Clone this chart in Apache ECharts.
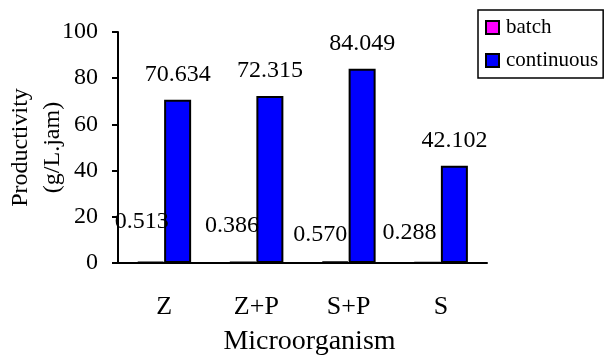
<!DOCTYPE html>
<html>
<head>
<meta charset="utf-8">
<script src="https://cdn.jsdelivr.net/npm/echarts@6/dist/echarts.min.js"></script>
<style>
  html, body { margin: 0; padding: 0; background: #fff; }
  #chart { width: 606px; height: 361px; }
</style>
</head>
<body>
<div id="chart"></div>
<script>
const categories = ['Z', 'Z+P', 'S+P', 'S']
const batch = [0.513, 0.386, 0.570, 0.288]
const continuous = [70.634, 72.315, 84.049, 42.102]
const yMin = 0
const yMax = 100
const yStep = 20

// hand-placed batch labels (offset from bar top)
const batchLabelShift = [[-9, -23], [-11, -19], [-15, -10], [-18, -12]]

const font = "'Liberation Serif', 'Times New Roman', serif"
const chart = echarts.init(document.getElementById('chart'))

chart.setOption({
  animation: false,
  textStyle: { fontFamily: font, color: '#000' },
  grid: { left: 118, right: 119, top: 32, bottom: 98, containLabel: false, outerBoundsMode: 'none' },
  legend: {
    orient: 'vertical',
    left: 478,
    top: 10,
    padding: [7, 5, 7, 7],
    itemGap: 12,
    itemWidth: 13,
    itemHeight: 13,
    icon: 'rect',
    borderColor: '#000',
    borderWidth: 1.5,
    backgroundColor: '#fff',
    selectedMode: false,
    textStyle: { fontFamily: font, fontSize: 21, color: '#000', padding: [0, 0, 0, 2] }
  },
  xAxis: {
    type: 'category',
    data: categories,
    name: 'Microorganism',
    nameLocation: 'middle',
    nameGap: 65,
    nameMoveOverlap: false,
    nameTextStyle: { fontFamily: font, fontSize: 28, color: '#000', padding: [0, 0, 0, 14] },
    axisLine: { lineStyle: { color: '#000', width: 2 } },
    axisTick: { length: 7, lineStyle: { color: '#000', width: 2 } },
    axisLabel: { margin: 31, fontFamily: font, fontSize: 26, color: '#000' }
  },
  yAxis: {
    type: 'value',
    min: yMin,
    max: yMax,
    interval: yStep,
    name: 'Productivity\n(g/L.jam)',
    nameLocation: 'middle',
    nameGap: 49,
    nameMoveOverlap: false,
    nameTextStyle: { fontFamily: font, fontSize: 24, color: '#000', lineHeight: 32 },
    splitLine: { show: false },
    axisLine: { show: true, lineStyle: { color: '#000', width: 2 } },
    axisTick: { show: true, length: 6, lineStyle: { color: '#000', width: 2 } },
    axisLabel: { margin: 20, fontFamily: font, fontSize: 24, color: '#000' }
  },
  series: [
    {
      name: 'batch',
      type: 'bar',
      barWidth: 27,
      barGap: '0%',
      itemStyle: { color: '#FF00FF', borderColor: '#000', borderWidth: 2 },
      label: {
        show: true,
        position: 'top',
        fontFamily: font,
        fontSize: 24,
        color: '#000',
        formatter: p => p.value.toFixed(3)
      },
      data: batch.map((v, i) => ({ value: v, label: { offset: batchLabelShift[i] } }))
    },
    {
      name: 'continuous',
      type: 'bar',
      barWidth: 27,
      barGap: '0%',
      itemStyle: { color: '#0000FF', borderColor: '#000', borderWidth: 2 },
      label: {
        show: true,
        position: 'top',
        distance: 13,
        fontFamily: font,
        fontSize: 24,
        color: '#000',
        formatter: p => p.value.toFixed(3)
      },
      data: continuous
    }
  ]
})
</script>
</body>
</html>
